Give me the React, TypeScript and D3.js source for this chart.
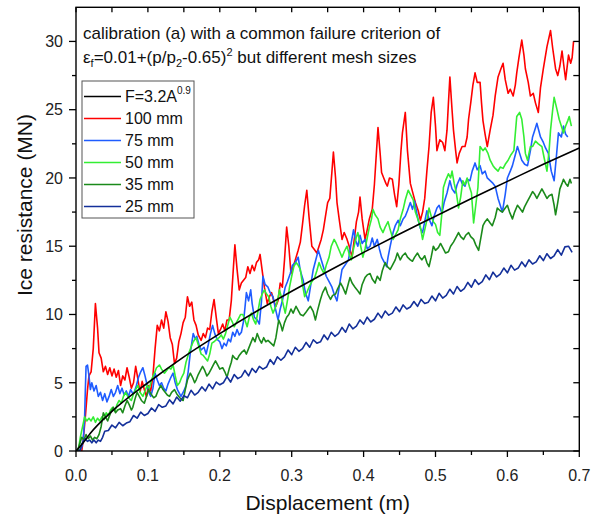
import React from "react";
import * as d3 from "d3";

// ---------- axis ticks ----------
const xTickValues = [0, 0.1, 0.2, 0.3, 0.4, 0.5, 0.6, 0.7];
const xTickLabels = ["0.0", "0.1", "0.2", "0.3", "0.4", "0.5", "0.6", "0.7"];
const xMinorTicks = [0.05, 0.15, 0.25, 0.35, 0.45, 0.55, 0.65];
const yTickValues = [0, 5, 10, 15, 20, 25, 30];
const yTickLabels = ["0", "5", "10", "15", "20", "25", "30"];
const yMinorTicks = [2.5, 7.5, 12.5, 17.5, 22.5, 27.5];

// ---------- series ----------
const fitLabel = "F=3.2A";
const fitSup = "0.9";
const fitCurve: [number, number][] = [
  [0, 0], [0.01, 0.6], [0.02, 1.3], [0.05, 2.9], [0.1, 5.0], [0.15, 6.9],
  [0.2, 8.6], [0.25, 10.2], [0.3, 11.7], [0.35, 13.15], [0.4, 14.55],
  [0.45, 15.9], [0.5, 17.2], [0.55, 18.5], [0.6, 19.75], [0.65, 21.0], [0.7, 22.2],
];

const seriesNames = ["100 mm", "75 mm", "50 mm", "35 mm", "25 mm"];

const mesh100: [number, number][] = [
  [0.008,0],[0.010,0.8],[0.013,2.5],[0.016,4.5],[0.018,5.5],[0.021,5.8],[0.024,7.5],[0.027,10.8],[0.030,9.0],[0.032,7.2],[0.035,6.8],[0.038,5.8],[0.041,6.2],[0.044,5.6],[0.047,6.1],[0.050,5.5],[0.053,6.0],[0.056,5.4],[0.059,5.9],[0.062,4.8],[0.065,5.5],[0.068,5.2],[0.071,6.1],[0.074,5.4],[0.077,4.6],[0.080,5.0],[0.083,6.2],[0.086,5.3],[0.089,4.3],[0.092,5.1],[0.095,4.5],[0.098,4.0],[0.101,4.8],[0.104,4.4],[0.107,5.5],[0.110,7.5],[0.113,9.2],[0.116,8.8],[0.119,9.6],[0.122,9.0],[0.125,10.2],[0.128,9.5],[0.131,8.3],[0.134,7.8],[0.137,6.4],[0.140,6.8],[0.143,8.0],[0.146,8.6],[0.149,9.4],[0.152,9.8],[0.155,11.3],[0.158,10.6],[0.161,10.9],[0.164,9.6],[0.167,9.2],[0.170,8.5],[0.174,8.1],[0.177,8.6],[0.180,8.3],[0.183,9.0],[0.186,8.9],[0.189,10.2],[0.192,11.1],[0.195,9.8],[0.198,8.6],[0.201,8.9],[0.204,9.3],[0.207,8.8],[0.210,9.6],[0.213,9.6],[0.216,11.0],[0.219,13.5],[0.221,15.1],[0.224,13.3],[0.227,11.8],[0.230,12.3],[0.233,12.5],[0.236,12.7],[0.239,13.5],[0.242,13.0],[0.245,13.6],[0.248,13.2],[0.251,13.8],[0.254,14.0],[0.256,14.4],[0.259,13.2],[0.262,12.0],[0.266,10.8],[0.269,11.3],[0.272,11.6],[0.275,11.0],[0.278,10.6],[0.281,11.0],[0.284,12.3],[0.287,12.0],[0.290,14.0],[0.293,16.4],[0.296,15.0],[0.299,13.0],[0.302,13.5],[0.305,14.0],[0.309,14.7],[0.312,15.3],[0.315,16.6],[0.318,18.0],[0.321,19.1],[0.324,17.2],[0.328,15.0],[0.331,14.8],[0.335,14.5],[0.338,15.0],[0.341,15.5],[0.344,16.2],[0.347,17.2],[0.350,18.2],[0.353,18.5],[0.356,20.5],[0.358,21.9],[0.361,20.0],[0.363,18.2],[0.366,17.0],[0.370,15.5],[0.373,16.0],[0.377,15.5],[0.380,15.0],[0.384,14.2],[0.387,15.5],[0.390,16.8],[0.393,17.5],[0.395,18.6],[0.398,17.0],[0.402,15.5],[0.405,16.2],[0.408,17.0],[0.412,17.7],[0.415,19.5],[0.418,22.0],[0.420,23.7],[0.423,21.8],[0.425,20.4],[0.428,20.0],[0.431,19.6],[0.433,19.4],[0.436,20.0],[0.440,19.9],[0.443,18.8],[0.446,17.9],[0.449,19.5],[0.452,22.0],[0.454,23.3],[0.458,24.8],[0.461,22.0],[0.465,19.6],[0.468,19.0],[0.472,18.2],[0.476,17.6],[0.479,16.9],[0.482,17.5],[0.485,18.5],[0.488,20.5],[0.491,22.3],[0.494,24.8],[0.497,25.9],[0.500,23.8],[0.502,22.0],[0.506,22.8],[0.510,22.6],[0.513,22.0],[0.516,23.5],[0.518,25.5],[0.520,27.4],[0.523,25.0],[0.525,23.5],[0.528,22.0],[0.530,21.1],[0.533,21.8],[0.537,22.3],[0.541,22.3],[0.544,23.0],[0.546,24.3],[0.549,25.5],[0.552,26.8],[0.555,27.7],[0.558,27.0],[0.562,27.0],[0.564,25.5],[0.566,24.2],[0.569,23.2],[0.572,22.3],[0.576,23.5],[0.580,24.6],[0.583,26.0],[0.587,27.4],[0.591,28.0],[0.594,28.4],[0.597,27.2],[0.601,26.2],[0.604,26.5],[0.608,26.0],[0.611,26.8],[0.613,27.7],[0.616,28.8],[0.620,30.1],[0.623,29.0],[0.625,28.0],[0.629,27.0],[0.632,26.0],[0.636,26.2],[0.639,25.5],[0.643,24.8],[0.646,26.6],[0.650,28.0],[0.655,29.6],[0.660,30.8],[0.663,29.5],[0.667,28.0],[0.670,27.5],[0.673,28.2],[0.676,29.3],[0.679,28.0],[0.681,27.2],[0.685,29.0],[0.688,28.4],[0.690,28.8],[0.692,30.0],
];

const mesh75: [number, number][] = [
  [0.005,0],[0.008,0.3],[0.010,0.7],[0.012,2.5],[0.013,4.5],[0.014,6.2],[0.016,6.3],[0.018,5.5],[0.020,4.5],[0.022,5.0],[0.025,4.4],[0.028,4.8],[0.031,4.0],[0.034,4.3],[0.037,3.7],[0.040,4.2],[0.043,3.6],[0.046,4.0],[0.049,4.5],[0.052,4.0],[0.055,4.3],[0.058,4.8],[0.061,4.2],[0.064,4.6],[0.067,4.1],[0.070,4.4],[0.073,4.0],[0.076,4.5],[0.079,4.2],[0.081,4.3],[0.084,4.8],[0.087,5.4],[0.090,5.8],[0.093,6.1],[0.096,5.5],[0.099,4.8],[0.102,4.2],[0.104,4.0],[0.107,4.6],[0.110,5.7],[0.113,5.2],[0.116,4.8],[0.119,5.0],[0.122,4.6],[0.125,4.4],[0.128,4.9],[0.132,5.4],[0.135,5.7],[0.138,5.0],[0.141,4.5],[0.144,4.2],[0.146,4.0],[0.150,4.4],[0.153,4.8],[0.156,5.8],[0.159,7.2],[0.163,8.6],[0.166,8.2],[0.168,8.4],[0.171,7.8],[0.174,7.4],[0.178,7.6],[0.181,7.1],[0.184,7.8],[0.187,8.6],[0.190,9.2],[0.193,8.6],[0.196,8.2],[0.200,8.0],[0.203,7.5],[0.206,7.9],[0.209,7.7],[0.212,8.2],[0.215,8.0],[0.218,8.7],[0.221,8.4],[0.224,8.9],[0.227,8.5],[0.230,8.7],[0.233,9.5],[0.235,10.5],[0.237,11.6],[0.240,11.0],[0.243,11.8],[0.245,10.8],[0.248,9.8],[0.252,9.6],[0.255,9.3],[0.258,11.0],[0.260,12.8],[0.263,12.2],[0.267,12.0],[0.270,11.6],[0.274,11.3],[0.277,10.5],[0.281,9.6],[0.284,10.4],[0.287,11.0],[0.291,12.0],[0.294,12.4],[0.298,13.0],[0.301,13.6],[0.305,13.8],[0.309,14.2],[0.312,13.2],[0.316,12.5],[0.319,11.6],[0.323,11.0],[0.326,12.0],[0.330,13.3],[0.333,13.9],[0.337,14.7],[0.340,14.2],[0.344,13.5],[0.348,12.8],[0.352,12.4],[0.356,12.0],[0.359,11.5],[0.363,11.0],[0.366,12.0],[0.370,13.3],[0.374,13.6],[0.379,14.0],[0.382,15.0],[0.386,16.2],[0.389,15.4],[0.392,15.0],[0.395,15.8],[0.398,15.2],[0.402,15.5],[0.405,14.8],[0.409,15.0],[0.412,15.6],[0.415,15.0],[0.419,15.5],[0.422,14.8],[0.425,14.2],[0.429,13.8],[0.432,13.5],[0.434,14.2],[0.437,15.0],[0.441,16.0],[0.444,16.5],[0.448,16.9],[0.451,16.5],[0.455,17.0],[0.458,17.2],[0.461,17.6],[0.465,18.2],[0.468,17.7],[0.471,18.3],[0.474,17.4],[0.476,16.9],[0.479,16.3],[0.482,16.0],[0.485,16.8],[0.488,17.6],[0.491,17.0],[0.495,16.5],[0.498,17.2],[0.502,17.8],[0.505,18.0],[0.509,17.4],[0.512,18.2],[0.516,18.9],[0.520,19.8],[0.523,19.2],[0.527,18.9],[0.530,19.5],[0.534,20.0],[0.537,19.6],[0.541,19.4],[0.544,19.9],[0.548,19.8],[0.551,20.5],[0.555,21.1],[0.558,20.6],[0.562,20.9],[0.565,20.3],[0.569,20.5],[0.572,20.0],[0.576,19.8],[0.580,19.6],[0.583,19.4],[0.587,18.5],[0.590,18.0],[0.593,17.5],[0.597,18.8],[0.600,20.0],[0.604,20.5],[0.607,20.9],[0.610,21.5],[0.614,22.3],[0.617,21.8],[0.620,21.3],[0.624,21.0],[0.628,20.9],[0.632,22.0],[0.635,23.0],[0.638,23.5],[0.641,24.0],[0.644,23.4],[0.646,23.0],[0.650,22.6],[0.653,22.2],[0.657,21.8],[0.661,20.5],[0.665,19.8],[0.668,21.5],[0.671,23.3],[0.675,23.0],[0.678,23.8],[0.681,23.2],[0.684,23.0],
];

const mesh50: [number, number][] = [
  [0.003,0],[0.006,1.0],[0.008,1.5],[0.010,2.0],[0.012,2.5],[0.015,2.2],[0.018,2.4],[0.021,2.2],[0.024,2.5],[0.027,2.1],[0.030,2.4],[0.033,2.2],[0.036,2.5],[0.039,2.3],[0.042,2.8],[0.045,2.6],[0.048,3.0],[0.051,3.2],[0.054,2.9],[0.057,3.4],[0.060,3.7],[0.063,3.5],[0.066,4.0],[0.069,4.3],[0.072,4.0],[0.075,3.8],[0.077,3.7],[0.080,4.2],[0.083,4.5],[0.086,4.8],[0.089,4.3],[0.093,4.0],[0.096,4.4],[0.099,4.8],[0.102,4.6],[0.105,5.2],[0.109,5.7],[0.112,6.1],[0.116,6.3],[0.119,6.0],[0.123,5.7],[0.126,5.9],[0.129,6.1],[0.132,6.0],[0.135,6.3],[0.138,5.5],[0.141,4.8],[0.144,5.0],[0.147,5.4],[0.150,5.7],[0.153,6.5],[0.157,7.2],[0.160,7.6],[0.163,8.0],[0.167,8.3],[0.170,7.8],[0.174,7.1],[0.177,7.0],[0.180,6.8],[0.183,6.6],[0.186,7.1],[0.189,7.9],[0.192,8.0],[0.196,8.2],[0.199,8.3],[0.202,8.5],[0.205,8.2],[0.208,8.6],[0.211,9.2],[0.214,9.8],[0.217,9.5],[0.220,9.1],[0.223,9.4],[0.226,9.7],[0.229,10.0],[0.232,10.0],[0.235,9.6],[0.238,9.1],[0.241,9.8],[0.244,10.1],[0.247,9.6],[0.250,9.3],[0.253,10.2],[0.256,11.1],[0.259,11.5],[0.262,11.8],[0.265,11.5],[0.268,11.3],[0.271,10.6],[0.274,10.1],[0.278,10.6],[0.281,11.2],[0.283,11.8],[0.287,11.0],[0.291,10.1],[0.294,11.0],[0.297,12.0],[0.300,12.8],[0.303,13.5],[0.306,13.8],[0.309,13.6],[0.312,13.3],[0.315,12.2],[0.318,11.3],[0.321,11.6],[0.324,12.0],[0.328,12.4],[0.332,12.7],[0.335,13.2],[0.338,13.8],[0.341,13.4],[0.345,13.0],[0.348,13.6],[0.352,14.2],[0.355,15.0],[0.359,15.5],[0.362,15.2],[0.366,14.7],[0.370,14.2],[0.373,14.6],[0.377,15.0],[0.380,14.4],[0.383,14.0],[0.386,14.8],[0.389,15.5],[0.392,16.0],[0.396,15.0],[0.399,14.2],[0.402,14.8],[0.405,15.6],[0.408,16.4],[0.411,17.0],[0.413,17.7],[0.416,17.3],[0.420,17.0],[0.423,16.4],[0.427,16.0],[0.430,16.4],[0.434,16.8],[0.437,16.2],[0.441,15.5],[0.444,15.8],[0.448,16.2],[0.451,17.0],[0.455,17.7],[0.458,18.4],[0.462,19.1],[0.465,18.8],[0.469,18.4],[0.472,17.5],[0.476,16.9],[0.479,16.4],[0.482,15.5],[0.485,16.2],[0.488,16.9],[0.491,17.8],[0.494,17.2],[0.497,16.8],[0.500,16.6],[0.503,16.0],[0.506,15.8],[0.509,17.5],[0.511,19.3],[0.514,19.8],[0.518,20.3],[0.521,20.0],[0.523,20.5],[0.526,19.6],[0.529,18.9],[0.532,17.8],[0.535,18.6],[0.538,19.8],[0.541,19.5],[0.544,20.0],[0.547,19.4],[0.550,18.9],[0.553,16.7],[0.556,18.0],[0.559,19.3],[0.562,22.3],[0.566,22.0],[0.569,22.2],[0.573,21.8],[0.576,21.3],[0.580,20.9],[0.583,20.7],[0.587,20.5],[0.590,20.8],[0.594,20.7],[0.597,21.0],[0.601,21.3],[0.605,21.7],[0.609,22.0],[0.613,24.5],[0.617,24.8],[0.620,24.3],[0.623,23.0],[0.625,21.8],[0.628,21.3],[0.632,22.3],[0.635,22.3],[0.639,22.7],[0.643,22.5],[0.648,22.3],[0.651,21.5],[0.655,20.5],[0.658,22.0],[0.660,23.5],[0.663,25.0],[0.665,25.9],[0.669,25.0],[0.672,24.3],[0.675,23.8],[0.678,23.3],[0.681,23.8],[0.684,24.2],[0.686,24.5],[0.689,23.8],
];

const mesh35: [number, number][] = [
  [0.002,0],[0.005,0.5],[0.008,1.0],[0.011,0.8],[0.014,1.2],[0.017,0.9],[0.020,1.1],[0.023,0.8],[0.026,1.0],[0.029,0.9],[0.032,1.2],[0.035,1.8],[0.038,2.8],[0.041,2.5],[0.044,2.2],[0.046,2.5],[0.049,2.9],[0.052,3.2],[0.055,2.8],[0.058,3.0],[0.062,3.1],[0.065,2.8],[0.068,3.3],[0.071,3.7],[0.074,3.4],[0.077,3.0],[0.079,3.2],[0.082,3.8],[0.085,4.3],[0.088,4.0],[0.091,3.7],[0.095,3.5],[0.098,4.0],[0.101,4.5],[0.104,4.2],[0.108,3.9],[0.111,4.0],[0.114,4.4],[0.118,4.8],[0.121,4.5],[0.124,4.3],[0.127,4.1],[0.130,4.0],[0.133,4.3],[0.137,4.5],[0.140,4.2],[0.143,4.0],[0.146,3.8],[0.149,3.7],[0.152,4.5],[0.155,5.2],[0.159,5.7],[0.162,5.4],[0.165,5.0],[0.167,5.2],[0.170,5.6],[0.173,5.9],[0.176,6.2],[0.179,5.9],[0.182,5.5],[0.185,5.7],[0.188,6.0],[0.191,6.3],[0.194,6.6],[0.197,6.3],[0.200,6.0],[0.204,6.1],[0.207,5.8],[0.210,5.4],[0.213,6.0],[0.216,6.5],[0.218,7.0],[0.221,6.8],[0.224,6.7],[0.227,7.0],[0.230,7.2],[0.234,7.4],[0.237,7.1],[0.240,7.5],[0.243,7.9],[0.246,8.3],[0.249,8.0],[0.252,8.6],[0.255,8.2],[0.258,7.9],[0.261,8.3],[0.264,8.0],[0.267,8.1],[0.271,7.9],[0.275,7.7],[0.278,8.3],[0.282,9.6],[0.285,9.2],[0.287,8.8],[0.290,9.4],[0.293,9.8],[0.296,10.0],[0.299,10.4],[0.302,10.1],[0.306,10.6],[0.309,10.3],[0.312,10.0],[0.316,9.9],[0.319,10.1],[0.323,10.4],[0.326,10.6],[0.330,10.2],[0.333,9.6],[0.336,10.3],[0.340,11.1],[0.343,11.6],[0.347,12.0],[0.350,11.5],[0.354,11.1],[0.357,11.4],[0.361,11.5],[0.364,11.9],[0.368,12.3],[0.371,12.0],[0.375,11.5],[0.378,12.1],[0.381,12.7],[0.384,12.3],[0.388,12.0],[0.391,11.8],[0.395,11.5],[0.398,12.2],[0.402,12.7],[0.405,12.9],[0.409,13.0],[0.412,12.6],[0.416,12.3],[0.419,12.8],[0.423,12.5],[0.426,13.2],[0.430,13.8],[0.433,13.5],[0.437,13.3],[0.440,13.6],[0.444,14.0],[0.447,14.5],[0.451,14.0],[0.454,14.3],[0.458,14.5],[0.461,14.2],[0.465,14.0],[0.468,13.9],[0.471,14.2],[0.475,14.5],[0.478,14.2],[0.481,14.0],[0.485,14.3],[0.488,13.8],[0.491,13.5],[0.494,14.2],[0.497,15.0],[0.500,14.7],[0.504,14.9],[0.507,15.2],[0.511,14.8],[0.514,14.5],[0.518,14.6],[0.521,15.0],[0.525,15.3],[0.528,15.6],[0.532,16.0],[0.535,15.7],[0.539,15.5],[0.542,15.8],[0.546,16.0],[0.549,15.7],[0.553,15.5],[0.556,15.1],[0.560,14.7],[0.563,15.6],[0.566,16.5],[0.569,16.8],[0.572,17.0],[0.576,16.7],[0.579,16.5],[0.583,17.1],[0.586,17.8],[0.590,17.6],[0.593,17.5],[0.597,17.8],[0.600,18.0],[0.603,17.5],[0.607,17.0],[0.610,17.5],[0.614,18.0],[0.617,17.8],[0.621,17.5],[0.624,17.9],[0.628,18.3],[0.631,18.6],[0.635,19.0],[0.638,18.8],[0.641,18.5],[0.645,18.9],[0.648,19.2],[0.651,18.9],[0.655,18.5],[0.658,18.7],[0.662,18.8],[0.665,18.0],[0.667,17.3],[0.670,18.2],[0.673,19.2],[0.676,19.6],[0.678,19.9],[0.681,19.6],[0.684,19.4],[0.687,19.9],[0.689,19.6],
];

const mesh25: [number, number][] = [
  [0.003,0],[0.006,0.1],[0.008,0.5],[0.010,0.7],[0.013,0.9],[0.016,0.7],[0.019,0.8],[0.022,0.6],[0.025,0.8],[0.028,0.6],[0.031,0.8],[0.034,0.7],[0.037,1.0],
  [0.040,1.45],[0.045,1.5],[0.050,1.9],[0.055,1.7],[0.060,2.1],[0.065,1.85],[0.070,2.05],[0.075,2.15],[0.080,2.6],[0.085,2.4],[0.090,2.85],[0.095,2.6],[0.100,2.75],[0.105,3.15],[0.110,2.9],[0.115,3.4],[0.120,3.2],[0.125,3.3],[0.130,3.75],[0.135,3.45],[0.140,3.95],[0.145,3.65],[0.150,4.05],[0.155,3.9],[0.160,4.45],[0.165,4.1],[0.170,4.3],[0.175,4.7],[0.180,4.4],[0.185,4.9],[0.190,4.55],[0.195,5.05],[0.200,4.85],[0.205,5.0],[0.210,5.45],[0.215,5.05],[0.220,5.6],[0.225,5.3],[0.230,5.45],[0.235,5.9],[0.240,5.5],[0.245,6.05],[0.250,5.75],[0.255,6.2],[0.260,6.0],[0.265,6.15],[0.270,6.7],[0.275,6.35],[0.280,6.9],[0.285,6.65],[0.290,6.9],[0.295,7.4],[0.300,7.05],[0.305,7.6],[0.310,7.3],[0.315,7.5],[0.320,7.95],[0.325,7.6],[0.330,8.15],[0.335,7.9],[0.340,8.0],[0.345,8.5],[0.350,8.15],[0.355,8.7],[0.360,8.4],[0.365,8.6],[0.370,9.05],[0.375,8.7],[0.380,9.3],[0.385,8.95],[0.390,9.15],[0.395,9.6],[0.400,9.3],[0.405,9.8],[0.410,9.45],[0.415,9.65],[0.420,10.1],[0.425,9.75],[0.430,10.25],[0.435,9.95],[0.440,10.1],[0.445,10.55],[0.450,10.2],[0.455,10.7],[0.460,10.4],[0.465,10.55],[0.470,10.95],[0.475,10.6],[0.480,11.1],[0.485,10.8],[0.490,10.9],[0.495,11.35],[0.500,11.0],[0.505,11.55],[0.510,11.2],[0.515,11.4],[0.520,11.85],[0.525,11.5],[0.530,12.05],[0.535,11.7],[0.540,11.9],[0.545,12.35],[0.550,12.0],[0.555,12.55],[0.560,12.2],[0.565,12.4],[0.570,12.9],[0.575,12.55],[0.580,13.1],[0.585,12.75],[0.590,12.95],[0.595,13.4],[0.600,13.05],[0.605,13.6],[0.610,13.25],[0.615,13.4],[0.620,13.85],[0.625,13.5],[0.630,14.0],[0.635,13.7],[0.640,13.85],[0.645,14.3],[0.650,13.95],[0.655,14.45],[0.660,14.1],[0.665,14.3],[0.670,14.75],[0.675,14.35],[0.680,14.95],[0.685,15.0],[0.690,14.55],
];

const seriesData = [mesh100, mesh75, mesh50, mesh35, mesh25];
const seriesColors = ["#ff0000", "#1f5cff", "#33ee33", "#1b8a1b", "#14309a"];

// ---------- layout ----------
const W = 592;
const H = 519;
const L = 76;
const R = 579.3;
const T = 7.3;
const B = 451;
const FONT = "Arial, 'Liberation Sans', Helvetica, sans-serif";

export default function App() {
  const x = d3.scaleLinear().domain([0, 0.7]).range([L, R]);
  const y = d3.scaleLinear().domain([0, 32.5]).range([B, T]);
  const line = d3
    .line<[number, number]>()
    .x((d) => x(d[0]))
    .y((d) => y(d[1]));
  const smooth = d3
    .line<[number, number]>()
    .x((d) => x(d[0]))
    .y((d) => y(d[1]))
    .curve(d3.curveMonotoneX);

  const legendRows = [
    { color: "#000000", label: null as string | null },
    ...seriesNames.map((n, i) => ({ color: seriesColors[i], label: n })),
  ];

  return (
    <svg
      width={W}
      height={H}
      style={{ position: "absolute", left: 0, top: 0, background: "#fff" }}
      fontFamily={FONT}
    >
      <defs>
        <clipPath id="plotclip">
          <rect x={L} y={T} width={R - L} height={B - T} />
        </clipPath>
      </defs>
      <rect x={0} y={0} width={W} height={H} fill="#fff" />

      {/* data */}
      <g clipPath="url(#plotclip)" fill="none" strokeLinejoin="round">
        {seriesData.map((d, i) => (
          <path key={i} d={line(d) || ""} stroke={seriesColors[i]} strokeWidth={1.6} />
        ))}
        <path d={smooth(fitCurve) || ""} stroke="#000" strokeWidth={1.6} />
      </g>

      {/* frame */}
      <rect x={L} y={T} width={R - L} height={B - T} fill="none" stroke="#000" strokeWidth={1.4} />

      {/* x ticks */}
      {xTickValues.map((v, i) => (
        <g key={"xt" + i}>
          <line x1={x(v)} x2={x(v)} y1={B} y2={B + 6} stroke="#000" strokeWidth={1.3} />
          <line x1={x(v)} x2={x(v)} y1={T} y2={T + 5} stroke="#000" strokeWidth={1.3} />
          <text x={x(v)} y={481} fontSize={16} textAnchor="middle" fill="#222">
            {xTickLabels[i]}
          </text>
        </g>
      ))}
      {xMinorTicks.map((v, i) => (
        <g key={"xm" + i}>
          <line x1={x(v)} x2={x(v)} y1={B} y2={B + 4} stroke="#000" strokeWidth={1.3} />
          <line x1={x(v)} x2={x(v)} y1={T} y2={T + 5} stroke="#000" strokeWidth={1.3} />
        </g>
      ))}

      {/* y ticks */}
      {yTickValues.map((v, i) => (
        <g key={"yt" + i}>
          <line x1={L - 7} x2={L} y1={y(v)} y2={y(v)} stroke="#000" strokeWidth={1.3} />
          <line x1={R - 6} x2={R} y1={y(v)} y2={y(v)} stroke="#000" strokeWidth={1.3} />
          <text x={63} y={y(v) + 5.8} fontSize={16} textAnchor="end" fill="#222">
            {yTickLabels[i]}
          </text>
        </g>
      ))}
      {yMinorTicks.map((v, i) => (
        <g key={"ym" + i}>
          <line x1={L - 4} x2={L} y1={y(v)} y2={y(v)} stroke="#000" strokeWidth={1.3} />
          <line x1={R - 6} x2={R} y1={y(v)} y2={y(v)} stroke="#000" strokeWidth={1.3} />
        </g>
      ))}

      {/* axis titles */}
      <text x={(L + R) / 2} y={510} fontSize={21} textAnchor="middle" fill="#111">
        Displacement (m)
      </text>
      <text
        transform={`translate(32, 205) rotate(-90)`}
        fontSize={21}
        textAnchor="middle"
        fill="#111"
      >
        Ice resistance (MN)
      </text>

      {/* annotation */}
      <text x={83} y={38.5} fontSize={17} fill="#111">
        calibration (a) with a common failure criterion of
      </text>
      <text x={83} y={63} fontSize={17} fill="#111">
        ε
        <tspan fontSize={11} dy={4}>f</tspan>
        <tspan dy={-4}>=0.01+(p/p</tspan>
        <tspan fontSize={11} dy={4}>2</tspan>
        <tspan dy={-4}>-0.65)</tspan>
        <tspan fontSize={11} dy={-7}>2</tspan>
        <tspan dy={7}> but different mesh sizes</tspan>
      </text>

      {/* legend */}
      <rect x={82} y={81} width={112} height={137} fill="#fff" stroke="#555" strokeWidth={1} />
      {legendRows.map((r, i) => {
        const cy = 96.5 + 22 * i;
        return (
          <g key={"lg" + i}>
            <line x1={84} x2={121} y1={cy} y2={cy} stroke={r.color} strokeWidth={1.6} />
            {r.label === null ? (
              <text x={125} y={cy + 5.8} fontSize={16} fill="#111">
                {fitLabel}
                <tspan fontSize={10} dy={-8}>{fitSup}</tspan>
              </text>
            ) : (
              <text x={125} y={cy + 5.8} fontSize={16} fill="#111">
                {r.label}
              </text>
            )}
          </g>
        );
      })}
    </svg>
  );
}
